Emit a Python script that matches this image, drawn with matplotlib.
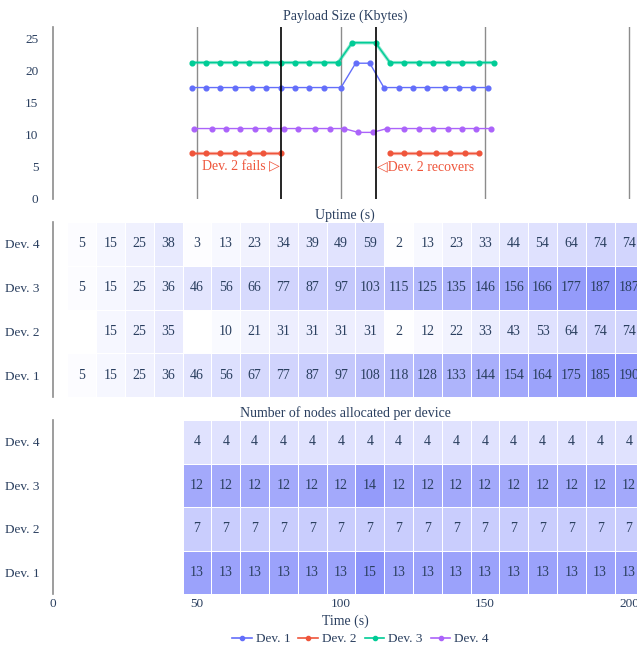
import numpy as np
import matplotlib
matplotlib.use("Agg")
import matplotlib.pyplot as plt
from matplotlib.colors import LinearSegmentedColormap
from matplotlib.lines import Line2D

# 폰트/색 설정
plt.rcParams["font.family"] = ["Liberation Serif", "DejaVu Serif"]
TXT = "#2a3f5f"
GRID = "#8c8c8c"

devices = ["Dev. 1", "Dev. 2", "Dev. 3", "Dev. 4"]
colors = ["#636efa", "#EF553B", "#00cc96", "#ab63fa"]

# 페이로드 크기 (Kbytes)
dev1_t = [48.2, 53.1, 58.1, 63.1, 69.1, 74.1, 79.1, 84.0, 89.0, 94.0, 100.0,
          105.1, 110.0, 114.9, 120.0, 125.0, 130.0, 136.0, 141.0, 145.9, 150.9]
dev1_y = [17.4, 17.4, 17.4, 17.4, 17.4, 17.4, 17.4, 17.4, 17.4, 17.4, 17.4,
          21.2, 21.2, 17.4, 17.4, 17.4, 17.4, 17.4, 17.4, 17.4, 17.4]
dev2_t = [48.2, 53.1, 58.1, 63.1, 68.1, 73.0, 79.1, np.nan,
          117.0, 122.0, 127.0, 133.0, 138.0, 143.0, 147.9]
dev2_y = [7.2, 7.2, 7.2, 7.2, 7.2, 7.2, 7.2, np.nan,
          7.2, 7.2, 7.2, 7.2, 7.2, 7.2, 7.2]
dev3_t = [48.2, 53.1, 58.1, 63.1, 68.1, 74.1, 79.1, 84.0, 89.0, 94.0, 99.0,
          103.9, 112.0, 117.0, 122.0, 127.0, 131.9, 137.0, 142.0, 147.9, 153.0]
dev3_y = [21.3, 21.3, 21.3, 21.3, 21.3, 21.3, 21.3, 21.3, 21.3, 21.3, 21.3,
          24.4, 24.4, 21.3, 21.3, 21.3, 21.3, 21.3, 21.3, 21.3, 21.3]
dev4_t = [49.1, 55.1, 60.1, 65.0, 70.0, 75.0, 80.1, 85.1, 91.1, 96.1, 101.0,
          106.0, 111.0, 116.0, 122.0, 127.0, 131.9, 137.0, 142.0, 147.0, 152.0]
dev4_y = [11.0, 11.0, 11.0, 11.0, 11.0, 11.0, 11.0, 11.0, 11.0, 11.0, 11.0,
          10.4, 10.4, 11.0, 11.0, 11.0, 11.0, 11.0, 11.0, 11.0, 11.0]

FAIL_T = 79.2
RECOVER_T = 112.2

# 업타임 (s), 행 = Dev.1..Dev.4
uptime_t = [10, 20, 30, 40, 50, 60, 70, 80, 90, 100,
            110, 120, 130, 140, 150, 160, 170, 180, 190, 200]
uptime_dev1 = [5, 15, 25, 36, 46, 56, 67, 77, 87, 97, 108, 118, 128, 133, 144, 154, 164, 175, 185, 190]
uptime_dev2 = [np.nan, 15, 25, 35, np.nan, 10, 21, 31, 31, 31, 31, 2, 12, 22, 33, 43, 53, 64, 74, 74]
uptime_dev3 = [5, 15, 25, 36, 46, 56, 66, 77, 87, 97, 103, 115, 125, 135, 146, 156, 166, 177, 187, 187]
uptime_dev4 = [5, 15, 25, 38, 3, 13, 23, 34, 39, 49, 59, 2, 13, 23, 33, 44, 54, 64, 74, 74]

# 디바이스별 할당 노드 수
nodes_t = [50, 60, 70, 80, 90, 100, 110, 120, 130, 140, 150, 160, 170, 180, 190, 200]
nodes_dev1 = [13, 13, 13, 13, 13, 13, 15, 13, 13, 13, 13, 13, 13, 13, 13, 13]
nodes_dev2 = [7, 7, 7, 7, 7, 7, 7, 7, 7, 7, 7, 7, 7, 7, 7, 7]
nodes_dev3 = [12, 12, 12, 12, 12, 12, 14, 12, 12, 12, 12, 12, 12, 12, 12, 12]
nodes_dev4 = [4, 4, 4, 4, 4, 4, 4, 4, 4, 4, 4, 4, 4, 4, 4, 4]

XMAX = 202.8
cmap = LinearSegmentedColormap.from_list("wb", ["#ffffff", "#8c94fa"])

fig = plt.figure(figsize=(6.37, 6.48), dpi=100)
L, R = 53 / 637, 1.0
ax1 = fig.add_axes([L, 1 - 199 / 648, R - L, (199 - 26.7) / 648])
ax2 = fig.add_axes([L, 1 - 397 / 648, R - L, (397 - 222) / 648])
ax3 = fig.add_axes([L, 1 - 594 / 648, R - L, (594 - 420) / 648])


def base_axes(ax, grid=True):
    ax.set_xlim(0, XMAX)
    for s in ["top", "right", "bottom"]:
        ax.spines[s].set_visible(False)
    ax.spines["left"].set_color(GRID)
    ax.spines["left"].set_linewidth(1.2)
    if grid:
        for gx in [50, 100, 150, 200]:
            ax.axvline(gx, color=GRID, lw=1, zorder=0)
    ax.tick_params(length=0, colors=TXT, labelsize=9.5, pad=9.5)
    ax.set_xticks([0, 50, 100, 150, 200])


# 1) 페이로드 라인 차트
base_axes(ax1)
ax1.set_ylim(0, 26.9)
ax1.set_yticks([0, 5, 10, 15, 20, 25])
ax1.tick_params(axis="y", pad=10.5)
ax1.set_xticklabels([])
series = [(dev1_t, dev1_y), (dev2_t, dev2_y), (dev3_t, dev3_y), (dev4_t, dev4_y)]
for (t, y), c in zip(series, colors):
    if c in ("#EF553B", "#00cc96"):
        ax1.plot(t, y, color=c, lw=2.4, alpha=0.45, zorder=2)
    ax1.plot(t, y, color=c, lw=1.0, marker="o", ms=3.4, zorder=3)
ax1.axvline(FAIL_T, color="black", lw=1.2, zorder=4)
ax1.axvline(RECOVER_T, color="black", lw=1.2, zorder=4)
ax1.text(FAIL_T - 0.3, 5.0, "Dev. 2 fails \u25b7", color="#EF553B", fontsize=10,
         ha="right", va="center")
ax1.text(RECOVER_T + 0.3, 5.0, "\u25c1Dev. 2 recovers", color="#EF553B", fontsize=10,
         ha="left", va="center")
ax1.set_title("Payload Size (Kbytes)", fontsize=10, color=TXT, pad=5)


# 2), 3) 히트맵
def heatmap(ax, t, rows, vmax, title):
    base_axes(ax, grid=False)
    z = np.ma.masked_invalid(np.array(rows, dtype=float))
    t = np.array(t, dtype=float)
    edges = np.concatenate([t - 5, [t[-1] + 5]])
    ax.pcolormesh(edges, np.arange(5) - 0.5, z, cmap=cmap, vmin=0, vmax=vmax,
                  edgecolors="white", linewidth=0.6, zorder=1)
    for i, row in enumerate(rows):
        for x, v in zip(t, row):
            if not np.isnan(v):
                ax.text(x, i, f"{int(v)}", ha="center", va="center",
                        fontsize=10, color=TXT, zorder=3, clip_on=True)
    ax.set_ylim(-0.5, 3.5)
    ax.set_yticks(range(4))
    ax.set_yticklabels(devices)
    ax.set_title(title, fontsize=10, color=TXT, pad=2)


heatmap(ax2, uptime_t, [uptime_dev1, uptime_dev2, uptime_dev3, uptime_dev4], 190,
        "Uptime (s)")
ax2.set_xticklabels([])
heatmap(ax3, nodes_t, [nodes_dev1, nodes_dev2, nodes_dev3, nodes_dev4], 15,
        "Number of nodes allocated per device")
ax3.tick_params(axis="x", pad=3)
ax3.set_xlabel("Time (s)", fontsize=10, color=TXT, labelpad=3)

handles = [Line2D([], [], color=c, lw=1.2, marker="o", ms=3) for c in colors]
leg = fig.legend(handles, devices, loc="lower center", bbox_to_anchor=(0.566, -0.014),
                 ncol=4, frameon=False, fontsize=9.5, handlelength=1.5,
                 handletextpad=0.3, columnspacing=0.6)
for txt in leg.get_texts():
    txt.set_color(TXT)

fig.savefig("out.png", dpi=100)
